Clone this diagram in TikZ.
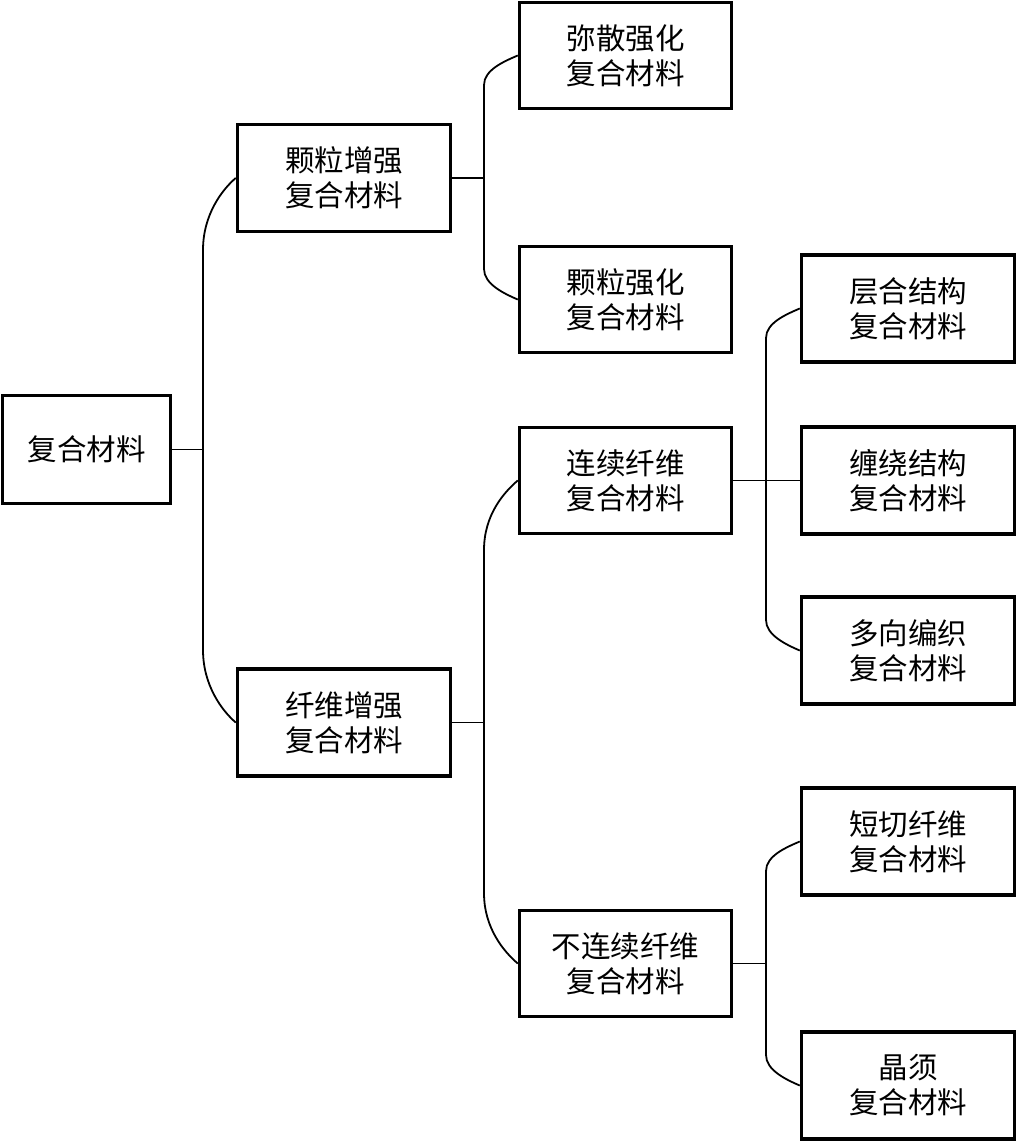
\documentclass[tikz,border=0pt]{standalone}
\usepackage{fontspec}
\newfontfamily\cjk{Noto Sans CJK SC}
\begin{document}
\begin{tikzpicture}[x=1pt,y=-1pt,
  box/.style={draw,line width=3.5pt,minimum width=213pt,minimum height=107pt,inner sep=0pt,align=center,
    font=\cjk\fontsize{29.5}{35}\selectfont},
  link/.style={line width=1.8pt}]
\useasboundingbox (0,0) rectangle (1017,1143);
% nodes
\node[box,minimum width=168pt,minimum height=108pt] (root) at (86.5,449.5) {复合材料};
\node[box] (k) at (344,178) {颗粒增强\\复合材料};
\node[box] (x) at (344,722.5) {纤维增强\\复合材料};
\node[box,minimum width=212pt,minimum height=106pt] (m1) at (625.5,55.5) {弥散强化\\复合材料};
\node[box,minimum width=212pt,minimum height=106pt] (m2) at (625.5,299.5) {颗粒强化\\复合材料};
\node[box,minimum width=212pt,minimum height=106pt] (c) at (625.5,480.5) {连续纤维\\复合材料};
\node[box,minimum width=212pt,minimum height=106pt] (d) at (625.5,963.5) {不连续纤维\\复合材料};
\node[box] (l1) at (908,308.5) {层合结构\\复合材料};
\node[box] (l2) at (908,480.5) {缠绕结构\\复合材料};
\node[box] (l3) at (908,650.5) {多向编织\\复合材料};
\node[box] (s1) at (908,841.5) {短切纤维\\复合材料};
\node[box] (s2) at (908,1085.5) {晶须\\复合材料};
% root bus
\draw[link] (root.east) -- (203,449.5);
\draw[link] (k.west) .. controls +(-14,12) and +(0,-35) .. (203,250) -- (203,650)
  .. controls +(0,35) and +(-14,-12) .. (x.west);
% particle bus
\draw[link] (k.east) -- (484,178);
\draw[link] (m1.west) .. controls +(-14,6) and +(0,-15) .. (484,85) -- (484,269)
  .. controls +(0,15) and +(-14,-6) .. (m2.west);
% fibre bus
\draw[link] (x.east) -- (484,722.5);
\draw[link] (c.west) .. controls +(-14,12) and +(0,-35) .. (484,550) -- (484,893)
  .. controls +(0,35) and +(-14,-12) .. (d.west);
% continuous bus
\draw[link] (c.east) -- (l2.west);
\draw[link] (l1.west) .. controls +(-14,6) and +(0,-15) .. (766,338) -- (766,620)
  .. controls +(0,15) and +(-14,-6) .. (l3.west);
% discontinuous bus
\draw[link] (d.east) -- (766,963.5);
\draw[link] (s1.west) .. controls +(-14,6) and +(0,-15) .. (766,871) -- (766,1055)
  .. controls +(0,15) and +(-14,-6) .. (s2.west);
\end{tikzpicture}
\end{document}
